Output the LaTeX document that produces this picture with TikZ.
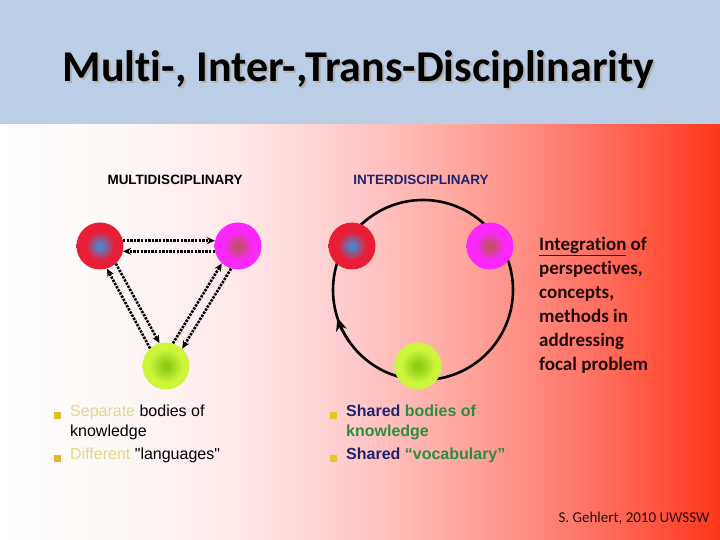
\documentclass[tikz,border=0pt]{standalone}
\usepackage{fontspec}
\setmainfont{Carlito}[Ligatures=CommonOff]
\newfontfamily\arialfont{Liberation Sans}
\usepackage{xcolor}
\usepackage{tikz}
\usetikzlibrary{arrows.meta,positioning,calc}
\definecolor{headblue}{RGB}{187,206,229}
\definecolor{fadeA}{RGB}{253,248,246}
\definecolor{fadeB}{RGB}{255,232,232}
\definecolor{fadeC}{RGB}{255,200,200}
\definecolor{fadeD}{RGB}{255,160,150}
\definecolor{fadeE}{RGB}{255,110,95}
\definecolor{fadeF}{RGB}{255,55,25}
\definecolor{ballred}{RGB}{232,30,55}
\definecolor{ballblue}{RGB}{80,130,200}
\definecolor{ballpink}{RGB}{250,40,250}
\definecolor{balldull}{RGB}{195,80,105}
\definecolor{ballgreen}{RGB}{205,245,60}
\definecolor{balldeep}{RGB}{140,205,20}
\definecolor{navy}{RGB}{32,36,110}
\definecolor{leafgreen}{RGB}{46,140,62}
\definecolor{paleyellow}{RGB}{228,214,140}
\definecolor{bulletgold}{RGB}{230,184,40}
\definecolor{darkink}{RGB}{35,10,10}
\pgfdeclarehorizontalshading{bodyfade}{100bp}{color(0bp)=(white); color(25bp)=(white);
color(33.3bp)=(fadeA); color(41.7bp)=(fadeB); color(50bp)=(fadeC);
color(58.3bp)=(fadeD); color(66.7bp)=(fadeE); color(75bp)=(fadeF); color(100bp)=(fadeF)}
\pgfdeclareradialshading{redball}{\pgfpointorigin}{color(0bp)=(ballblue); color(3bp)=(ballblue);
color(15bp)=(ballred); color(25bp)=(ballred); color(50bp)=(ballred)}
\pgfdeclareradialshading{pinkball}{\pgfpointorigin}{color(0bp)=(balldull); color(3bp)=(balldull);
color(15bp)=(ballpink); color(25bp)=(ballpink); color(50bp)=(ballpink)}
\pgfdeclareradialshading{greenball}{\pgfpointorigin}{color(0bp)=(balldeep); color(3bp)=(balldeep);
color(18bp)=(ballgreen); color(25bp)=(ballgreen); color(50bp)=(ballgreen)}
\newcommand\shadowed[1]{\makebox[0pt][l]{\hspace*{2pt}\raisebox{-2pt}[0pt][0pt]{\textcolor{gray!60}{#1}}}#1}

\begin{document}
\begin{tikzpicture}[
x=1pt,y=1pt,
ball/.style={
circle,
minimum size=47pt,
inner sep=0pt
},
heading/.style={
font=\arialfont\bfseries\fontsize{13.5}{16}\selectfont
},
dotlink/.style={
-{Stealth[length=8pt,width=7pt]},
line width=2.6pt,
dash pattern=on 2.4pt off 1.2pt
},
bullet/.style={
fill=bulletgold,
minimum size=6.5pt,
inner sep=0pt
},
item/.style={
font=\arialfont\fontsize{16}{20}\selectfont,
anchor=north west,
align=left,
inner sep=0pt
}
]

\useasboundingbox (0,0) rectangle (720,540);

% backgrounds
\fill[headblue] (0,415) rectangle (720,540);
\shade[shading=bodyfade] (0,0) rectangle (720,415);

% title
\node[anchor=base,text=black,font=\bfseries\fontsize{44}{50}\selectfont]
(title) at (358.5,458) {\shadowed{Multi-, Inter-,Trans-Disciplinarity}};

\node[heading] (multihead) at (175,360) {MULTIDISCIPLINARY};
\node[heading,text=navy] (interhead) at (421,360) {INTERDISCIPLINARY};

% multidisciplinary triangle
\node[ball,shading=redball] (mr) at (100,294) {};
\node[ball,shading=pinkball] (mm) at (238,294) {};
\node[ball,shading=greenball] (mg) at (166,174) {};

\draw[dotlink] (mr.13) -- (mm.167);
\draw[dotlink] (mm.193) -- (mr.-13);
\draw[dotlink] (mg.132) -- (mr.-73);
\draw[dotlink] (mr.-48) -- (mg.106);
\draw[dotlink] (mg.73) -- (mm.-133);
\draw[dotlink] (mm.-107) -- (mg.47);

% interdisciplinary ring
\coordinate (ring) at (423,250);
\draw[line width=2.6pt] (ring) circle[radius=90];
\draw[line width=2.6pt,-{Stealth[length=13pt,width=11pt]}]
([shift={(215:90)}]ring) arc[start angle=215,end angle=198,radius=90];

\node[ball,shading=redball] (ir) at (352,294) {};
\node[ball,shading=pinkball] (im) at (490,294) {};
\node[ball,shading=greenball] (ig) at (418,174) {};

\node[anchor=north west,align=left,inner sep=0pt,text=darkink,
font=\bfseries\fontsize{19}{24}\selectfont] (integ) at (539,303)
{\underline{Integration} of\\perspectives,\\concepts,\\methods in\\addressing\\focal problem};

% bullet lists
\node[bullet] (lb1) at (57.5,124.5) {};
\node[bullet] (lb2) at (57.5,81.5) {};
\node[item] (lt1) at (70,135.5)
{\textcolor{paleyellow}{Separate} bodies of\\knowledge};
\node[item] (lt2) at (70,92.5)
{\textcolor{paleyellow}{Different} "languages"};

\node[bullet,fill=bulletgold!80!yellow] (rb1) at (333.5,124.5) {};
\node[bullet,fill=bulletgold!80!yellow] (rb2) at (333.5,81.5) {};
\node[item,font=\arialfont\bfseries\fontsize{16}{20}\selectfont] (rt1) at (346,135.5)
{\textcolor{navy}{Shared} \textcolor{leafgreen}{bodies of}\\\textcolor{leafgreen}{knowledge}};
\node[item,font=\arialfont\bfseries\fontsize{16}{20}\selectfont] (rt2) at (346,92.5)
{\textcolor{navy}{Shared} \textcolor{leafgreen}{“vocabulary”}};

\node[anchor=base east,text=darkink,font=\fontsize{15}{18}\selectfont] (credit) at (713,17)
{S. Gehlert, 2010 UWSSW};

\end{tikzpicture}
\end{document}
